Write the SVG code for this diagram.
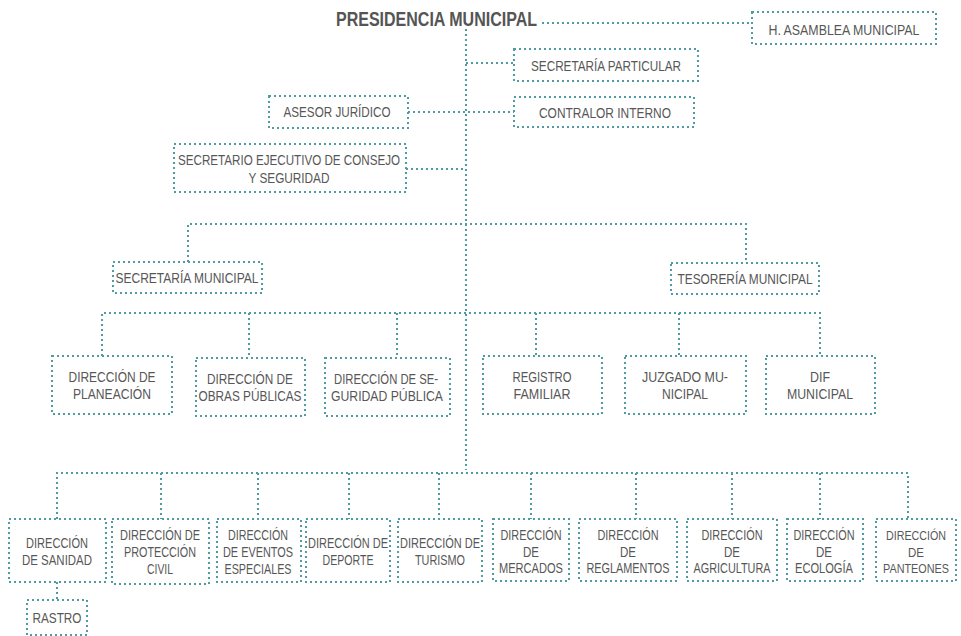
<svg xmlns="http://www.w3.org/2000/svg" width="961" height="636" viewBox="0 0 961 636">
<style>
.b{fill:#fff;stroke:#4f9aa3;stroke-width:2;stroke-dasharray:2 3}
.c{fill:none;stroke:#4f9aa3;stroke-width:2;stroke-dasharray:2 3}
text{font-family:"Liberation Sans",Arial,sans-serif;font-size:14px;fill:#575757;text-anchor:middle}
.t{font-weight:bold;font-size:21px;fill:#555;text-anchor:start}
.s{font-size:13.5px}
.s2{font-size:12.5px}
</style>
<rect width="961" height="636" fill="#fff"/>
<g id="connectors">
<path class="c" d="M542 23H752"/>
<path class="c" d="M466 29V470"/>
<path class="c" d="M466 63H514"/>
<path class="c" d="M408 112H514"/>
<path class="c" d="M406 169H466"/>
<path class="c" d="M188 262V224H746V263"/>
<path class="c" d="M102 356V313H820V356"/>
<path class="c" d="M249 313V358M397 313V358M536 313V356M679 313V356"/>
<path class="c" d="M57 519V473H908V519"/>
<path class="c" d="M161 473V519M258 473V519M349 473V519M439 473V519M531 473V519M636 473V519M732 473V519M820 473V519"/>
<path class="c" d="M57 582V600"/>
</g>
<g id="presidencia"><text class="t" x="336" y="26" textLength="201" lengthAdjust="spacingAndGlyphs">PRESIDENCIA MUNICIPAL</text></g>
<g id="asamblea"><rect class="b" x="752" y="12" width="184" height="32"/><text x="844" y="35" textLength="151" lengthAdjust="spacingAndGlyphs">H. ASAMBLEA MUNICIPAL</text></g>
<g id="sec-particular"><rect class="b" x="514" y="49" width="184" height="32"/><text x="606" y="71" textLength="150" lengthAdjust="spacingAndGlyphs">SECRETARÍA PARTICULAR</text></g>
<g id="contralor"><rect class="b" x="514" y="97" width="180" height="30"/><text x="605" y="118" textLength="132" lengthAdjust="spacingAndGlyphs">CONTRALOR INTERNO</text></g>
<g id="asesor"><rect class="b" x="269" y="96" width="139" height="32"/><text x="337" y="117" textLength="107" lengthAdjust="spacingAndGlyphs">ASESOR JURÍDICO</text></g>
<g id="sec-ejecutivo"><rect class="b" x="174" y="144" width="232" height="48"/><text x="289" y="165" textLength="222" lengthAdjust="spacingAndGlyphs">SECRETARIO EJECUTIVO DE CONSEJO</text><text x="289" y="183" textLength="81" lengthAdjust="spacingAndGlyphs">Y SEGURIDAD</text></g>
<g id="sec-municipal"><rect class="b" x="113" y="262" width="149" height="31"/><text x="187" y="283" textLength="143" lengthAdjust="spacingAndGlyphs">SECRETARÍA MUNICIPAL</text></g>
<g id="tesoreria"><rect class="b" x="671" y="263" width="148" height="31"/><text x="745" y="284" textLength="135" lengthAdjust="spacingAndGlyphs">TESORERÍA MUNICIPAL</text></g>
<g id="planeacion"><rect class="b" x="52" y="356" width="120" height="58"/><text x="112" y="382" textLength="87" lengthAdjust="spacingAndGlyphs">DIRECCIÓN DE</text><text x="112" y="399" textLength="78" lengthAdjust="spacingAndGlyphs">PLANEACIÓN</text></g>
<g id="obras"><rect class="b" x="196" y="358" width="109" height="58"/><text x="250" y="384" textLength="86" lengthAdjust="spacingAndGlyphs">DIRECCIÓN DE</text><text x="250" y="401" textLength="103" lengthAdjust="spacingAndGlyphs">OBRAS PÚBLICAS</text></g>
<g id="seguridad"><rect class="b" x="325" y="358" width="125" height="58"/><text x="386" y="384" textLength="104" lengthAdjust="spacingAndGlyphs">DIRECCIÓN DE SE-</text><text x="387" y="401" textLength="112" lengthAdjust="spacingAndGlyphs">GURIDAD PÚBLICA</text></g>
<g id="registro"><rect class="b" x="483" y="356" width="119" height="58"/><text x="542" y="382" textLength="59" lengthAdjust="spacingAndGlyphs">REGISTRO</text><text x="542" y="399" textLength="57" lengthAdjust="spacingAndGlyphs">FAMILIAR</text></g>
<g id="juzgado"><rect class="b" x="625" y="356" width="121" height="58"/><text x="685" y="382" textLength="86" lengthAdjust="spacingAndGlyphs">JUZGADO MU-</text><text x="685" y="399" textLength="46" lengthAdjust="spacingAndGlyphs">NICIPAL</text></g>
<g id="dif"><rect class="b" x="766" y="356" width="109" height="58"/><text x="820" y="382" textLength="20" lengthAdjust="spacingAndGlyphs">DIF</text><text x="820" y="399" textLength="66" lengthAdjust="spacingAndGlyphs">MUNICIPAL</text></g>
<g id="sanidad"><rect class="b" x="9" y="519" width="97" height="63"/><text x="57" y="548" textLength="62" lengthAdjust="spacingAndGlyphs">DIRECCIÓN</text><text x="57" y="565" textLength="70" lengthAdjust="spacingAndGlyphs">DE SANIDAD</text></g>
<g id="proteccion"><rect class="b" x="112" y="519" width="97" height="65"/><text x="160" y="540" textLength="80" lengthAdjust="spacingAndGlyphs">DIRECCIÓN DE</text><text x="160" y="557" textLength="72" lengthAdjust="spacingAndGlyphs">PROTECCIÓN</text><text x="160" y="574" textLength="26" lengthAdjust="spacingAndGlyphs">CIVIL</text></g>
<g id="eventos"><rect class="b" x="217" y="519" width="84" height="63"/><text x="258" y="540" textLength="60" lengthAdjust="spacingAndGlyphs">DIRECCIÓN</text><text x="258" y="557" textLength="70" lengthAdjust="spacingAndGlyphs">DE EVENTOS</text><text x="258" y="574" textLength="67" lengthAdjust="spacingAndGlyphs">ESPECIALES</text></g>
<g id="deporte"><rect class="b" x="306" y="519" width="84" height="63"/><text x="348" y="548" textLength="80" lengthAdjust="spacingAndGlyphs">DIRECCIÓN DE</text><text x="348" y="565" textLength="51" lengthAdjust="spacingAndGlyphs">DEPORTE</text></g>
<g id="turismo"><rect class="b" x="398" y="519" width="84" height="63"/><text x="440" y="548" textLength="80" lengthAdjust="spacingAndGlyphs">DIRECCIÓN DE</text><text x="440" y="565" textLength="50" lengthAdjust="spacingAndGlyphs">TURISMO</text></g>
<g id="mercados"><rect class="b" x="493" y="519" width="76" height="62"/><text x="531" y="540" textLength="61" lengthAdjust="spacingAndGlyphs">DIRECCIÓN</text><text x="531" y="557" textLength="16" lengthAdjust="spacingAndGlyphs">DE</text><text x="531" y="573" textLength="64" lengthAdjust="spacingAndGlyphs">MERCADOS</text></g>
<g id="reglamentos"><rect class="b" x="579" y="519" width="98" height="62"/><text x="628" y="540" textLength="61" lengthAdjust="spacingAndGlyphs">DIRECCIÓN</text><text x="628" y="557" textLength="16" lengthAdjust="spacingAndGlyphs">DE</text><text x="628" y="573" textLength="83" lengthAdjust="spacingAndGlyphs">REGLAMENTOS</text></g>
<g id="agricultura"><rect class="b" x="687" y="519" width="90" height="62"/><text x="732" y="540" textLength="61" lengthAdjust="spacingAndGlyphs">DIRECCIÓN</text><text x="732" y="557" textLength="16" lengthAdjust="spacingAndGlyphs">DE</text><text x="732" y="573" textLength="77" lengthAdjust="spacingAndGlyphs">AGRICULTURA</text></g>
<g id="ecologia"><rect class="b" x="787" y="519" width="76" height="62"/><text x="824" y="540" textLength="61" lengthAdjust="spacingAndGlyphs">DIRECCIÓN</text><text x="824" y="557" textLength="16" lengthAdjust="spacingAndGlyphs">DE</text><text x="824" y="573" textLength="58" lengthAdjust="spacingAndGlyphs">ECOLOGÍA</text></g>
<g id="panteones"><rect class="b" x="876" y="519" width="80" height="62"/><text class="s" x="916" y="540" textLength="60" lengthAdjust="spacingAndGlyphs">DIRECCIÓN</text><text class="s" x="916" y="557" textLength="16" lengthAdjust="spacingAndGlyphs">DE</text><text class="s2" x="916" y="573" textLength="66" lengthAdjust="spacingAndGlyphs">PANTEONES</text></g>
<g id="rastro"><rect class="b" x="27" y="600" width="60" height="35"/><text x="57" y="623" textLength="49" lengthAdjust="spacingAndGlyphs">RASTRO</text></g>
</svg>
